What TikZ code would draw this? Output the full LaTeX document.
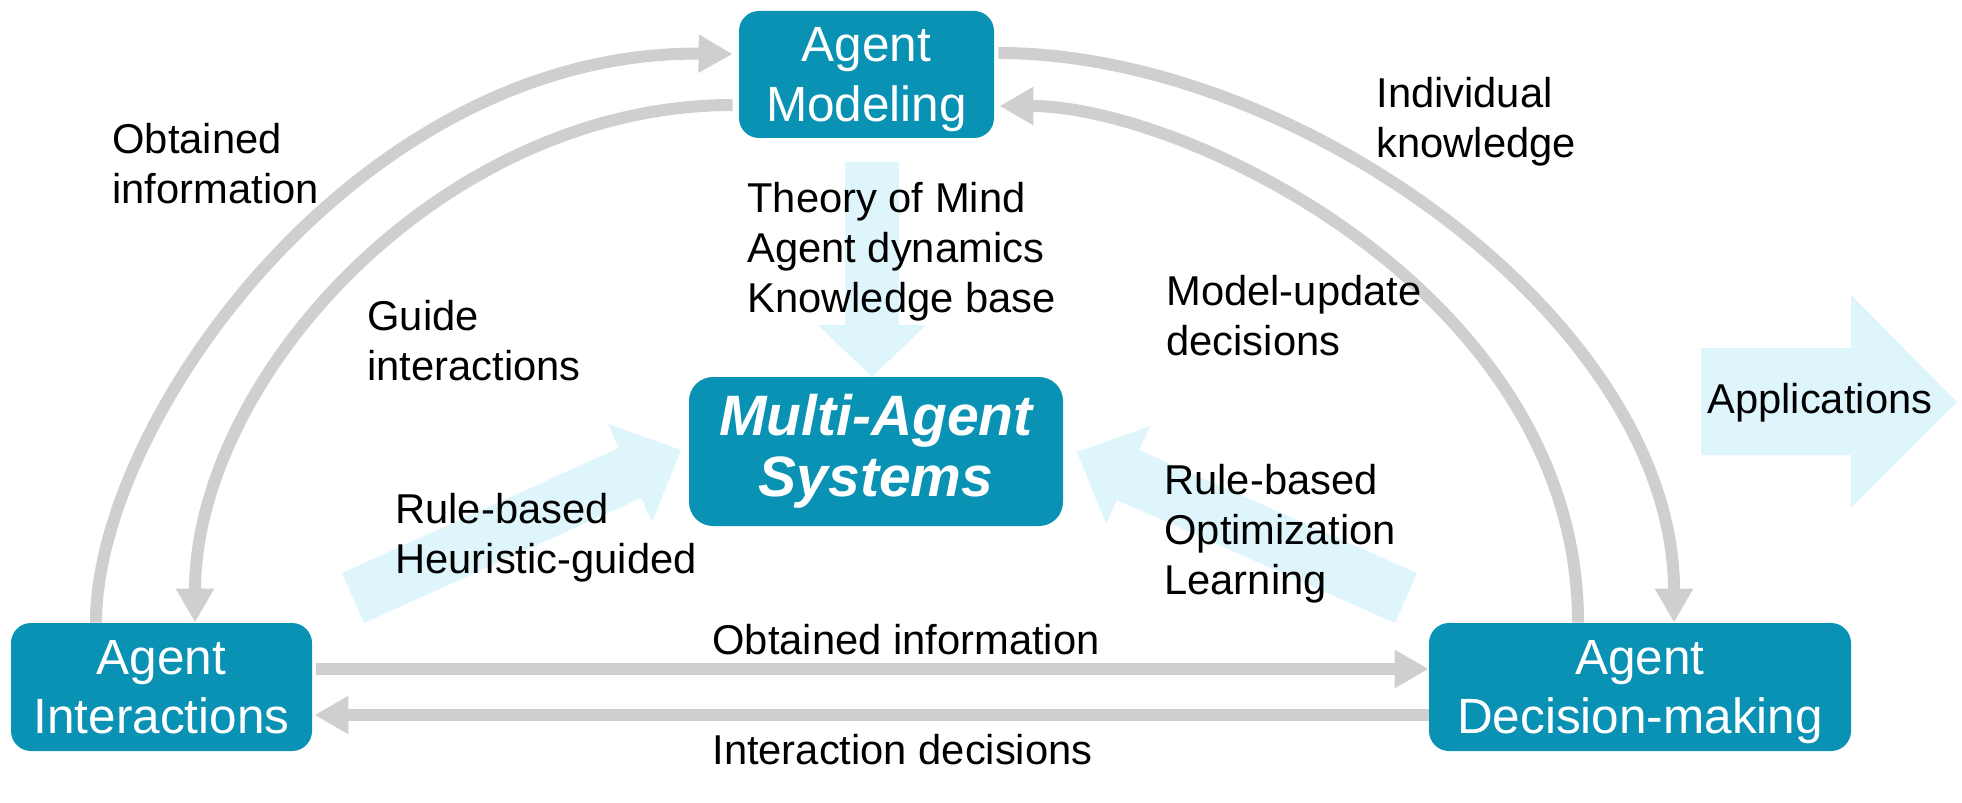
\documentclass[tikz,border=0pt]{standalone}
\usepackage{fontspec}
\setmainfont{Liberation Sans}
\usetikzlibrary{arrows.meta,calc}
\definecolor{boxteal}{RGB}{10,146,180}
\definecolor{arrowgray}{RGB}{208,206,208}
\definecolor{paleblue}{RGB}{222,245,252}
\begin{document}
\begin{tikzpicture}[x=0.5pt,y=-0.5pt,
  box/.style={fill=boxteal, rounded corners=10pt, text=white, align=center, inner sep=0pt,
    font=\fontsize{24.75pt}{29.75pt}\selectfont, minimum height=64pt},
  masbox/.style={box, rounded corners=12pt, font=\fontsize{28.5pt}{30.5pt}\selectfont\bfseries\itshape},
  lbl/.style={anchor=north west, align=left, inner sep=0pt, font=\fontsize{20.85pt}{25pt}\selectfont},
  flow/.style={draw=arrowgray, line width=6pt, -{Triangle[length=17pt,width=18pt]}},
  fatarrow/.style={fill=paleblue, draw=none}]
\useasboundingbox (0,0) rectangle (1962,802);

% pale block arrows
\fill[fatarrow] (845,162) -- (899,162) -- (899,325) -- (926,325) -- (872,377) -- (818,325) -- (845,325) -- cycle;
\fill[fatarrow] (342,573) -- (619,448) -- (608,424) -- (681,450) -- (652,522) -- (641,498) -- (364,623) -- cycle;
\fill[fatarrow] (1417,573) -- (1139,450) -- (1150,426) -- (1077,452) -- (1106,524) -- (1117,500) -- (1395,623) -- cycle;
\fill[fatarrow] (1701,348) -- (1851,348) -- (1851,295) -- (1957,402) -- (1851,508) -- (1851,455) -- (1701,455) -- cycle;

% boxes
\node[box, minimum width=127.5pt, minimum height=63.5pt] (am) at (866.5,74.5) {Agent\\\smash{Modeling}};
\node[box, minimum width=150.5pt] (ai) at (161.5,687) {Agent\\\smash{Interactions}};
\node[box, minimum width=211pt] (ad) at (1640,687) {Agent\\\smash{Decision-making}};
\node[masbox, minimum width=187pt, minimum height=74.5pt] (mas) at (876,451.5) {Multi-Agent\\Systems};

% gray connectors
\draw[flow] ($(ai.north)+(-65.5,0)$) .. controls (96,420) and (360,50) .. ($(am.west)+(-6,-20.5)$);
\draw[flow] ($(am.west)+(-6,30.5)$) .. controls (440,105) and (195,380) .. ($(ai.north)+(33.5,0)$);
\draw[flow] ($(am.east)+(4,-21.5)$) .. controls (1298,53) and (1674,323) .. ($(ad.north)+(34,0)$);
\draw[flow] ($(ad.north)+(-62,0)$) .. controls (1578,293) and (1184,106) .. ($(am.east)+(5,31.5)$);
\draw[flow] ($(ai.east)+(4,-18)$) -- ($(ad.west)+(0,-18)$);
\draw[flow] ($(ad.west)+(0,28)$) -- ($(ai.east)+(2,28)$);

% labels
\node[lbl] (l1) at (112,123) {Obtained\\information};
\node[lbl] (l2) at (367,300) {Guide\\interactions};
\node[lbl] (l3) at (747,182) {Theory of Mind\\Agent dynamics\\Knowledge base};
\node[lbl] (l4) at (1376,77) {Individual\\knowledge};
\node[lbl] (l5) at (1166,275) {Model-update\\decisions};
\node[lbl] (l6) at (1707,383) {Applications};
\node[lbl] (l7) at (395,493) {Rule-based\\Heuristic-guided};
\node[lbl] (l8) at (1164,464) {Rule-based\\Optimization\\Learning};
\node[lbl] (l9) at (712,624) {Obtained information};
\node[lbl] (l10) at (712,734) {Interaction decisions};
\end{tikzpicture}
\end{document}
